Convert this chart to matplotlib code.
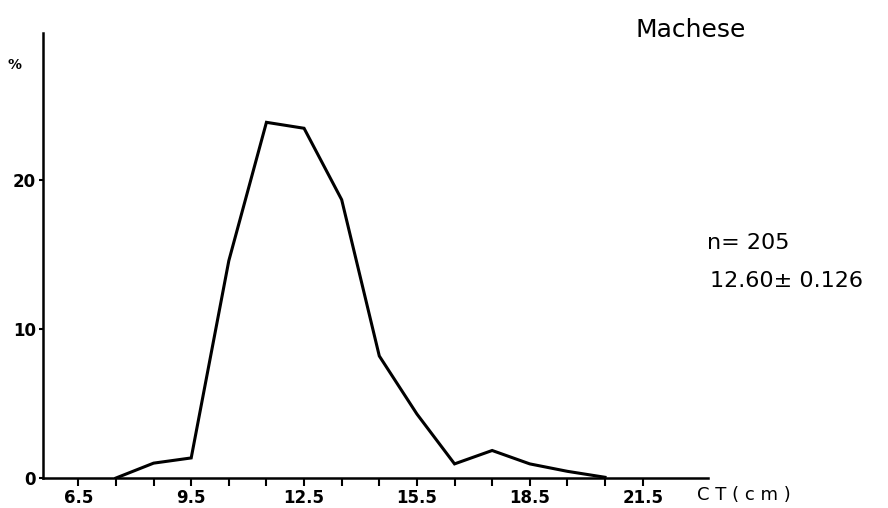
import matplotlib
matplotlib.use("Agg")
import matplotlib.pyplot as plt

# CT (cm) class midpoints and percentage frequency
ct_classes = [7.5, 8.5, 9.5, 10.5, 11.5, 12.5, 13.5, 14.5, 15.5, 16.5, 17.5, 18.5, 19.5, 20.5]
percent = [0.0, 1.0, 1.35, 14.6, 23.9, 23.5, 18.7, 8.2, 4.3, 0.95, 1.85, 0.95, 0.45, 0.05]

x_ticks = [6.5, 7.5, 8.5, 9.5, 10.5, 11.5, 12.5, 13.5, 14.5, 15.5, 16.5, 17.5, 18.5, 19.5, 20.5, 21.5]
x_labels = ["6.5", "", "", "9.5", "", "", "12.5", "", "", "15.5", "", "", "18.5", "", "", "21.5"]
y_ticks = [0, 10, 20]

title = "Machese"
stats = ["n= 205", "12.60\u00b1 0.126"]

fig = plt.figure(figsize=(8.88, 5.08), dpi=100)
ax = fig.add_axes([0.0484, 0.059, 0.749, 0.876])

ax.plot(ct_classes, percent, color="black", lw=2.2, solid_joinstyle="miter")

ax.set_xlim(5.56, 23.24)
ax.set_ylim(0, 29.9)
ax.set_xticks(x_ticks)
ax.set_xticklabels(x_labels)
ax.set_yticks(y_ticks)
ax.tick_params(axis="x", direction="out", length=6, width=1.5, labelsize=12, pad=2)
ax.tick_params(axis="y", direction="out", length=3, width=1.5, labelsize=12, pad=2)
for lab in ax.get_xticklabels() + ax.get_yticklabels():
    lab.set_fontweight("bold")

for side in ["top", "right"]:
    ax.spines[side].set_visible(False)
for side in ["left", "bottom"]:
    ax.spines[side].set_linewidth(1.8)

fig.text(7 / 888, 1 - 65 / 508, "%", fontsize=10, fontweight="bold", va="center", ha="left")
fig.text(697 / 888, 1 - 495 / 508, "C T ( c m )", fontsize=13, va="center", ha="left")
fig.text(635 / 888, 1 - 30 / 508, title, fontsize=18, va="center", ha="left")
fig.text(707 / 888, 1 - 243 / 508, stats[0], fontsize=16, va="center", ha="left")
fig.text(710 / 888, 1 - 281 / 508, stats[1], fontsize=16, va="center", ha="left")

fig.savefig("out.png", dpi=100)
